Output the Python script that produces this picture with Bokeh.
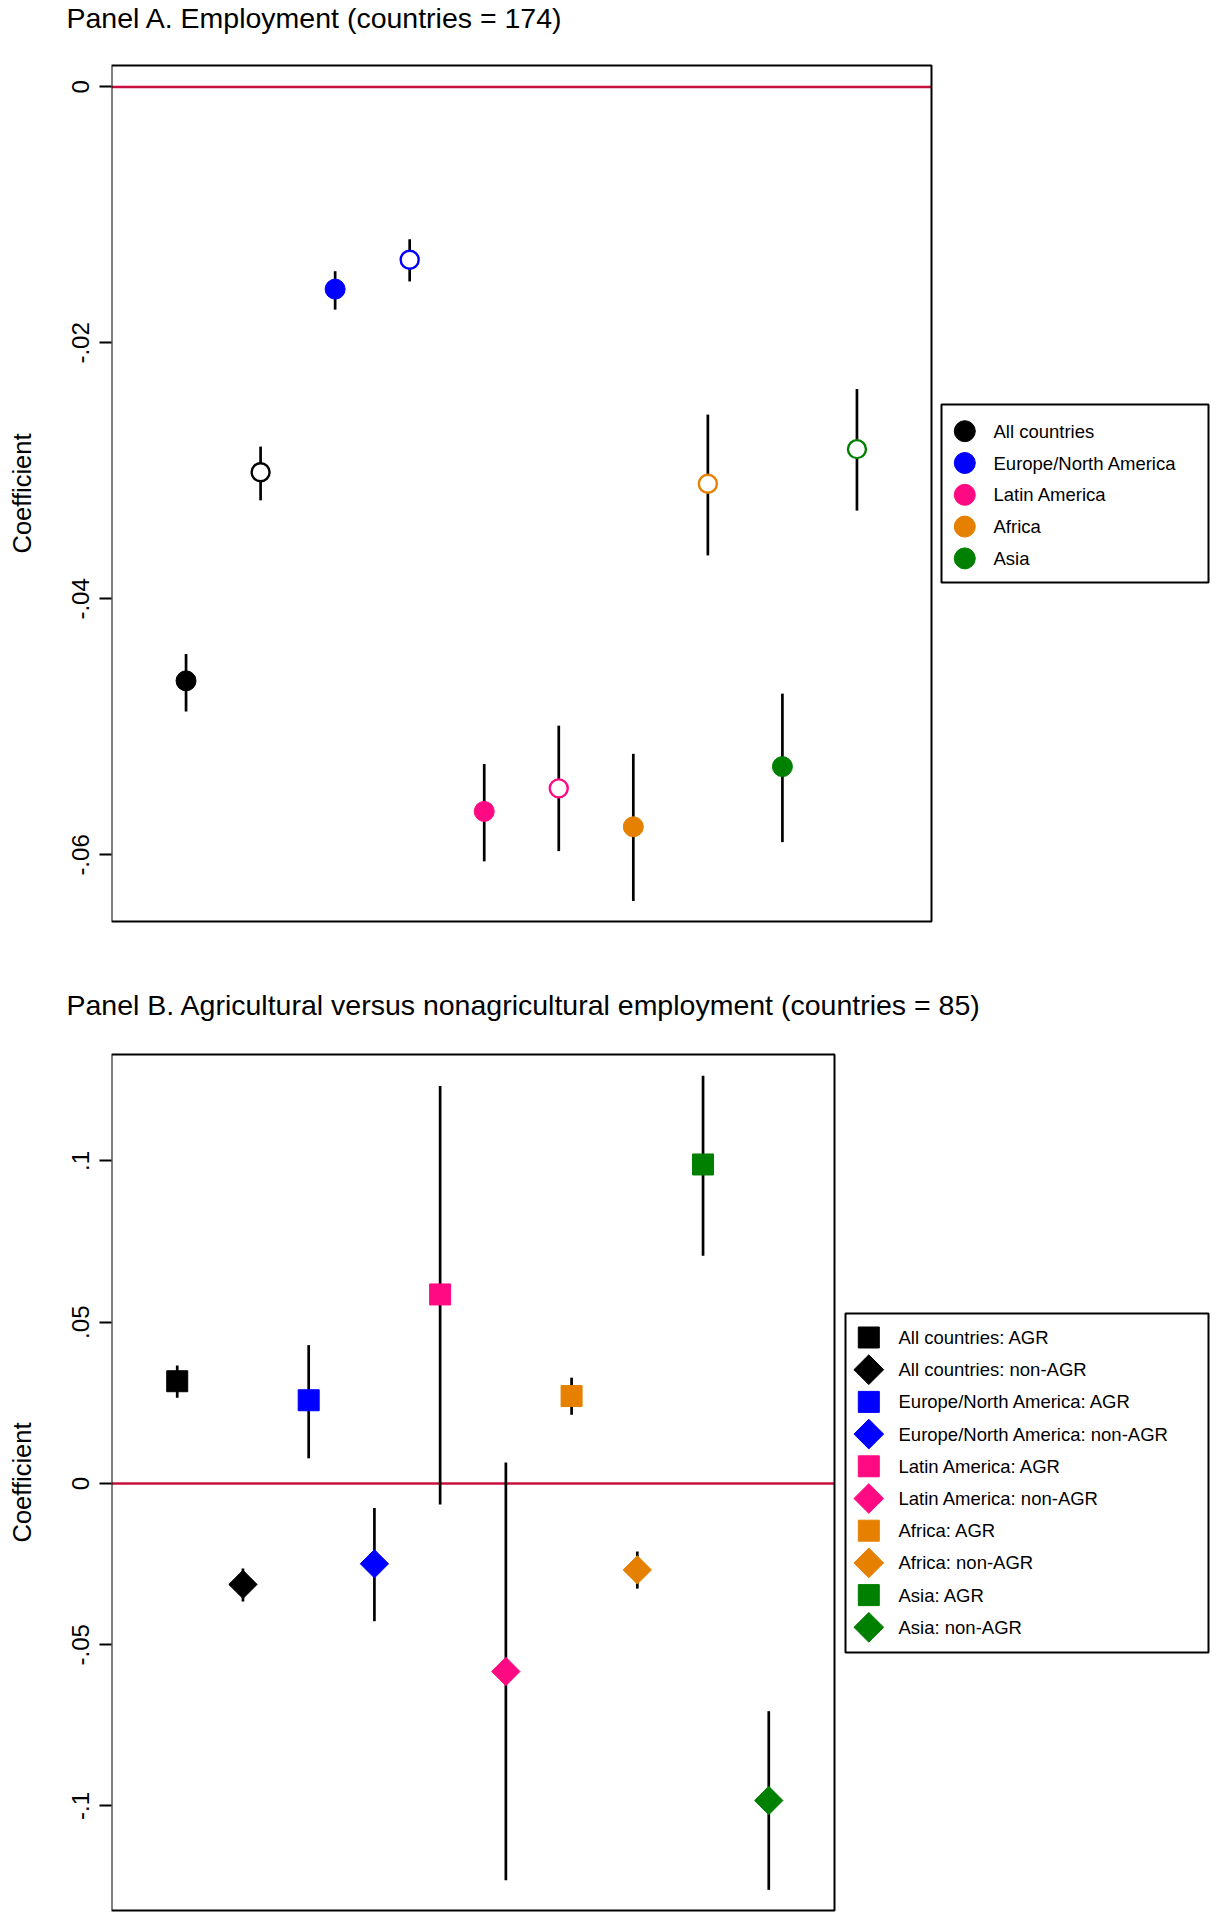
import numpy as np
from bokeh.plotting import figure
from bokeh.models import Range1d, FixedTicker, Title
from bokeh.layouts import column
from bokeh.core.properties import value
from bokeh.embed import file_html
from bokeh.resources import INLINE

# ---------------- data ----------------
regions = ["All countries", "Europe/North America", "Latin America", "Africa", "Asia"]
colors = ["#000000", "#0000FF", "#FF0A82", "#E58000", "#008000"]

# Panel A: employment (filled = first estimate, hollow = second estimate)
a_filled = [-0.0464, -0.0158, -0.0566, -0.0578, -0.0531]
a_filled_lo = [-0.0488, -0.0174, -0.0605, -0.0636, -0.0590]
a_filled_hi = [-0.0443, -0.0144, -0.0529, -0.0521, -0.0474]
a_hollow = [-0.0301, -0.0135, -0.0548, -0.0310, -0.0283]
a_hollow_lo = [-0.0323, -0.0152, -0.0597, -0.0366, -0.0331]
a_hollow_hi = [-0.0281, -0.0119, -0.0499, -0.0256, -0.0236]

# Panel B: agricultural (AGR) vs nonagricultural (non-AGR) employment
b_agr = [0.0317, 0.0258, 0.0586, 0.0271, 0.0989]
b_agr_lo = [0.0266, 0.0078, -0.0065, 0.0213, 0.0706]
b_agr_hi = [0.0366, 0.0429, 0.1232, 0.0328, 0.1264]
b_non = [-0.0313, -0.0249, -0.0583, -0.0268, -0.0983]
b_non_lo = [-0.0366, -0.0427, -0.1230, -0.0326, -0.1260]
b_non_hi = [-0.0264, -0.0076, 0.0065, -0.0211, -0.0706]

a_ticks = [0, -0.02, -0.04, -0.06]
a_tick_labels = ["0", "-.02", "-.04", "-.06"]
b_ticks = [-0.1, -0.05, 0, 0.05, 0.1]
b_tick_labels = ["-.1", "-.05", "0", ".05", ".1"]

title_a = "Panel A. Employment (countries = 174)"
title_b = "Panel B. Agricultural versus nonagricultural employment (countries = 85)"
y_label = "Coefficient"

FONT = "Liberation Sans"
ZERO_COLOR = "#C8103E"
DIAMOND = np.pi / 4

LEFT = 111        # left edge of plot boxes (px)
FRAME_W = 1099    # drawing area incl. legend (px)
PAD = 2           # room so that box borders are not clipped
N_SLOTS = 11      # x slots: estimates at 1..10


def make_fig(box_w, box_h, top, yr, ticks, tick_labels, title, gap):
    """Figure whose frame holds the plot box and its legend."""
    frame_h = box_h + 2 * PAD
    ylo, yhi = yr
    per_px = (yhi - ylo) / box_h
    p = figure(frame_width=FRAME_W, frame_height=frame_h, output_backend="svg",
               toolbar_location=None,
               x_range=Range1d(0, N_SLOTS * FRAME_W / box_w),
               y_range=Range1d(ylo - PAD * per_px, yhi + PAD * per_px),
               min_border_left=LEFT, min_border_top=top, min_border_bottom=0,
               min_border_right=0)
    p.extra_x_ranges = {"px": Range1d(0, FRAME_W)}
    p.extra_y_ranges = {"px": Range1d(frame_h, 0)}
    p.background_fill_color = "white"
    p.border_fill_color = "white"
    p.outline_line_color = None
    p.xgrid.visible = False
    p.ygrid.visible = False
    p.xaxis.visible = False
    ax = p.yaxis[0]
    ax.ticker = FixedTicker(ticks=ticks)
    ax.major_label_overrides = {t: l for t, l in zip(ticks, tick_labels)}
    ax.major_label_orientation = "vertical"
    ax.major_label_text_font = FONT
    ax.major_label_text_font_size = "24px"
    ax.major_label_text_color = "black"
    ax.major_label_standoff = 10
    ax.major_tick_out = 12
    ax.major_tick_in = 0
    ax.major_tick_line_width = 2
    ax.major_tick_line_color = "black"
    ax.minor_tick_line_color = None
    ax.axis_line_color = None
    ax.axis_label = y_label
    ax.axis_label_text_font = FONT
    ax.axis_label_text_font_style = "normal"
    ax.axis_label_text_font_size = "25.5px"
    ax.axis_label_text_color = "black"
    ax.axis_label_standoff = 34
    # spacer between frame and title, then the title itself (outermost)
    p.add_layout(Title(text=" ", text_font_size="1px", standoff=gap), "above")
    p.add_layout(Title(text=title, text_font=FONT, text_font_size="28.5px",
                       text_font_style="normal", text_color="black", align="left",
                       offset=-45, standoff=0, vertical_align="top"), "above")
    # zero line and plot box
    p.segment(x0=[0], y0=[0], x1=[N_SLOTS], y1=[0], line_color=ZERO_COLOR, line_width=2.5)
    p.quad(left=[0], right=[N_SLOTS], bottom=[ylo], top=[yhi], fill_color=None,
           line_color="black", line_width=2)
    return p


def add_legend(p, labels, leg_colors, markers, angles, box, first, pitch,
               glyph_x, text_x, msize):
    l, r, t, b = box
    p.quad(left=[l], right=[r], top=[t], bottom=[b], fill_color="white",
           line_color="black", line_width=2, x_range_name="px", y_range_name="px")
    ys = [first + pitch * i for i in range(len(labels))]
    p.scatter(x=[glyph_x] * len(labels), y=ys, marker=markers, angle=angles,
              size=msize, fill_color=leg_colors, line_color=leg_colors, line_width=1,
              x_range_name="px", y_range_name="px")
    p.text(x=[text_x] * len(labels), y=ys, text=labels, text_font=value(FONT),
           text_font_size=value("18.5px"), text_baseline="middle", text_align="left",
           text_color="black", x_range_name="px", y_range_name="px")


# ---------------- Panel A ----------------
pA = make_fig(820, 856, 63, (-0.0652, 0.00167), a_ticks, a_tick_labels, title_a, 25)
for i, col in enumerate(colors):
    xf, xh = 2 * i + 1, 2 * i + 2
    pA.segment(x0=[xf, xh], y0=[a_filled_lo[i], a_hollow_lo[i]],
               x1=[xf, xh], y1=[a_filled_hi[i], a_hollow_hi[i]],
               line_color="black", line_width=2.7)
    pA.scatter(x=[xf], y=[a_filled[i]], marker="circle", size=20,
               fill_color=col, line_color=col, line_width=1)
    pA.scatter(x=[xh], y=[a_hollow[i]], marker="circle", size=18,
               fill_color="white", line_color=col, line_width=2.4)

add_legend(pA, regions, colors, ["circle"] * 5, [0.0] * 5,
           box=(830, 1097, 341, 519), first=367.7, pitch=31.8,
           glyph_x=853.3, text_x=882, msize=21)

# ---------------- Panel B ----------------
pB = make_fig(723, 856, 129, (-0.1324, 0.133), b_ticks, b_tick_labels, title_b, 27)
labels_b, colors_b, markers_b, angles_b = [], [], [], []
for i, (reg, col) in enumerate(zip(regions, colors)):
    xa, xn = 2 * i + 1, 2 * i + 2
    pB.segment(x0=[xa, xn], y0=[b_agr_lo[i], b_non_lo[i]],
               x1=[xa, xn], y1=[b_agr_hi[i], b_non_hi[i]],
               line_color="black", line_width=2.7)
    pB.scatter(x=[xa], y=[b_agr[i]], marker="square", size=21,
               fill_color=col, line_color=col, line_width=1)
    pB.scatter(x=[xn], y=[b_non[i]], marker="square", size=20, angle=DIAMOND,
               fill_color=col, line_color=col, line_width=1)
    labels_b += [f"{reg}: AGR", f"{reg}: non-AGR"]
    colors_b += [col, col]
    markers_b += ["square", "square"]
    angles_b += [0.0, DIAMOND]

add_legend(pB, labels_b, colors_b, markers_b, angles_b,
           box=(734, 1097, 261, 600), first=285, pitch=32.2,
           glyph_x=757.3, text_x=787, msize=21)

layout = column(pA, pB, spacing=0)
open("out.html", "w").write(file_html(layout, INLINE))
